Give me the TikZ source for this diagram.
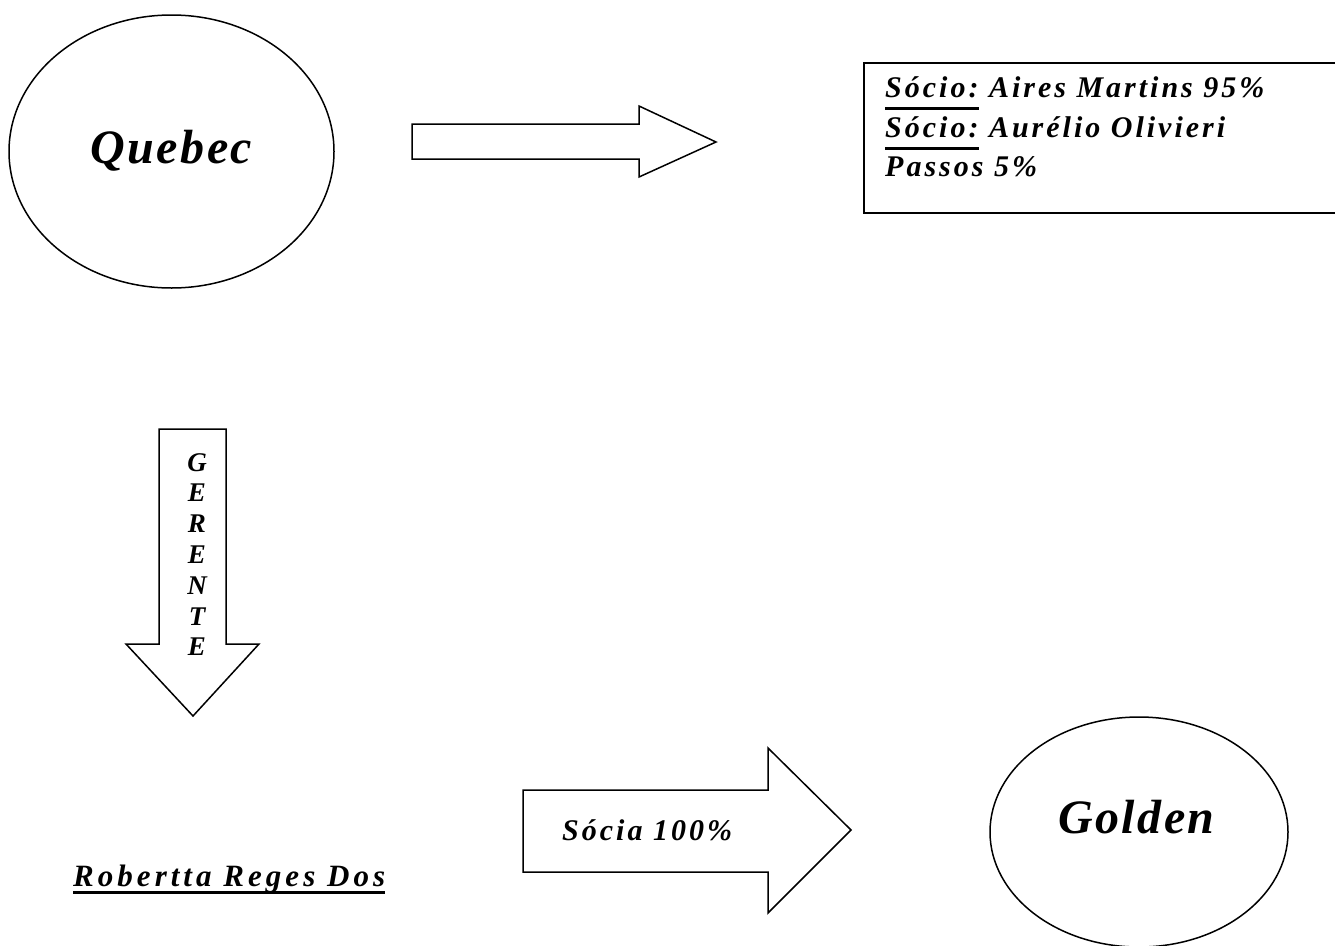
\documentclass[tikz,border=0pt]{standalone}
\usepackage{fontspec}
\setmainfont{Liberation Serif}
\newfontfamily\spacedfont[LetterSpace=10]{Liberation Serif}
\newfontfamily\widefont[LetterSpace=13]{Liberation Serif}
\newfontfamily\bigfont[LetterSpace=5]{Liberation Serif}
\newfontfamily\plainfont{Liberation Serif}
\newsavebox\ulbox
\newcommand\ulword[2]{\sbox\ulbox{#2}\rlap{\rule[#1]{\wd\ulbox}{3pt}}\usebox\ulbox}

\begin{document}
\begin{tikzpicture}[x=1pt, y=-1pt,
    outline/.style={line width=1.5pt},
    txt/.style={inner sep=0pt, anchor=base west, font=\spacedfont\bfseries\itshape\fontsize{30}{39.5}\selectfont},
    bigtxt/.style={inner sep=0pt, anchor=base, font=\bigfont\bfseries\itshape\fontsize{48}{56}\selectfont},
    vertxt/.style={inner sep=0pt, align=center, font=\plainfont\bfseries\itshape\fontsize{27}{30.8}\selectfont}]
                \useasboundingbox (0,0) rectangle (1335,945);

                % Draw Quebec
                \draw[outline] (171.5,151.5) ellipse [x radius=162.5, y radius=136.5];
                \node[bigtxt] (quebec) at (171.5,163) {Quebec};

                % Arrow to the partners
                \draw[outline] (412,124) -- (639,124) -- (639,106) -- (716,142) -- (639,177) -- (639,159) -- (412,159) -- cycle;

                % Partners box
                \draw[line width=2pt] (864,63) rectangle (1345,213);
                \node[txt] (socio1) at (885,97) {\ulword{-13pt}{Sócio:} Aires Martins 95\%};
                \node[txt] (socio2) at (885,137) {\ulword{-13pt}{Sócio:} Aurélio Olivieri};
                \node[txt] (socio3) at (885,176) {Passos 5\%};

                % Manager arrow
                \draw[outline] (159,429) -- (226,429) -- (226,644) -- (259,644) -- (193,716) -- (126,644) -- (159,644) -- cycle;
                \node[vertxt] (gerente) at (197,554.5) {G\\E\\R\\E\\N\\T\\E};

                % Manager name
                \node[txt, font=\widefont\bfseries\itshape\fontsize{31}{38}\selectfont] (roberta) at (73,886) {\ulword{-8pt}{Robertta Reges Dos}};

                % Arrow to Golden
                \draw[outline] (523,790) -- (768,790) -- (768,748) -- (851,830) -- (768,913) -- (768,872) -- (523,872) -- cycle;
                \node[txt] (socia) at (562,840) {Sócia 100\%};

                % Draw Golden
                \draw[outline] (1139,832) ellipse [x radius=149, y radius=115];
                \node[bigtxt] (golden) at (1136.5,833) {Golden};
            \end{tikzpicture}
\end{document}
